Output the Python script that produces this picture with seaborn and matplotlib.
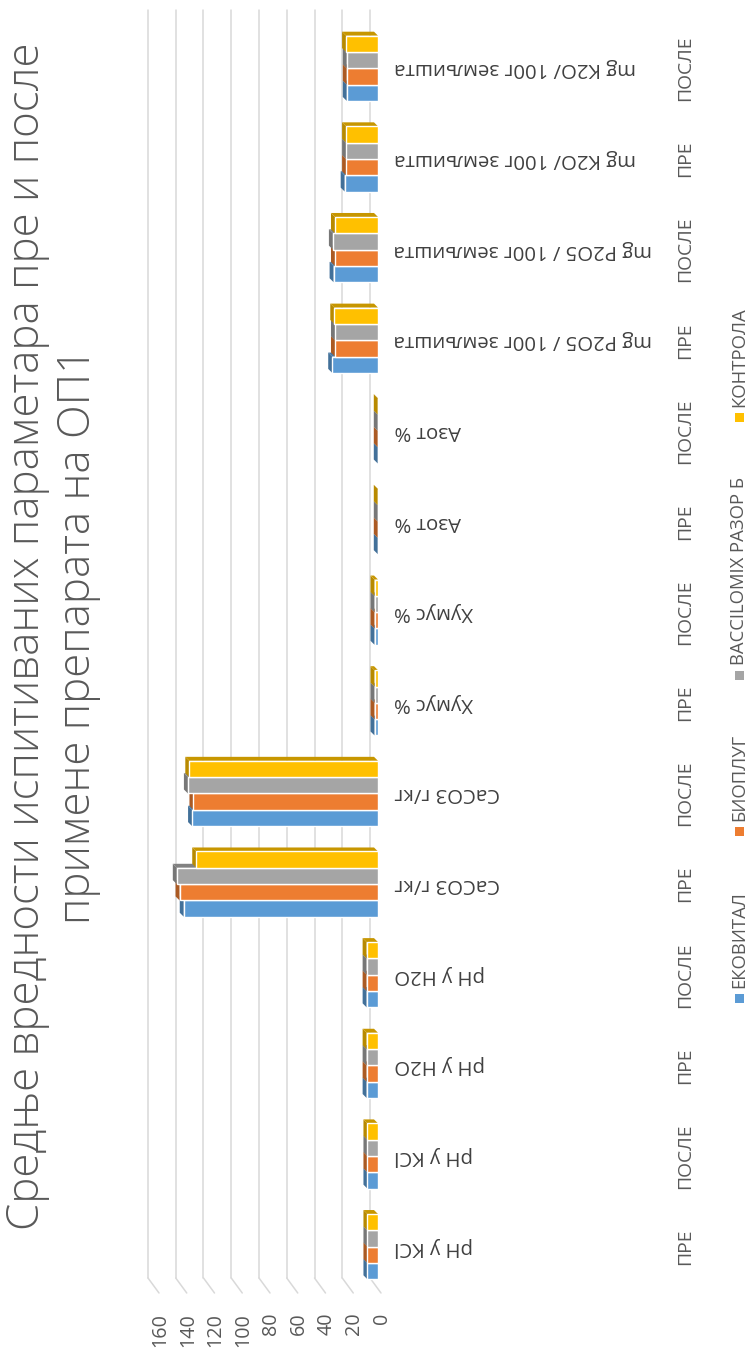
import numpy as np
import pandas as pd
import matplotlib
matplotlib.use("Agg")
import matplotlib.pyplot as plt
import matplotlib.colors as mcolors
import seaborn as sns
from matplotlib.patches import Polygon, Rectangle
from matplotlib.transforms import blended_transform_factory, ScaledTranslation

# ---------------- data ----------------
parameters = ["pH у KCl", "pH у KCl", "pH у H2O", "pH у H2O",
              "CaCO3 г/кг", "CaCO3 г/кг", "Хумус %", "Хумус %",
              "Азот %", "Азот %",
              "mg P2O5 / 100г земљишта", "mg P2O5 / 100г земљишта",
              "mg K2O/ 100г земљишта", "mg K2O/ 100г земљишта"]
phases = ["ПРЕ", "ПОСЛЕ"] * 7
series_names = ["ЕКОВИТАЛ", "БИОПЛУГ", "BACCILOMIX РАЗОР Б", "КОНТРОЛА"]

ekovital   = [7.6, 7.6, 8.2, 8.2, 140, 134, 2.5, 2.5, 0.15, 0.15, 33.0, 32.0, 24.0, 22.5]
bioplug    = [7.6, 7.6, 8.2, 8.2, 143, 133, 2.5, 2.5, 0.15, 0.15, 31.0, 31.0, 23.0, 22.5]
baccilomix = [7.6, 7.6, 8.2, 8.2, 145, 137, 2.5, 2.5, 0.15, 0.15, 31.0, 32.5, 23.0, 22.5]
kontrola   = [7.6, 7.6, 8.2, 8.2, 131, 136, 2.5, 2.5, 0.15, 0.15, 31.5, 31.0, 23.0, 23.0]

value_ticks = [0, 20, 40, 60, 80, 100, 120, 140, 160]
colors = ["#5B9BD5", "#ED7D31", "#A5A5A5", "#FFC000"]

title_line1 = "Средње вредности испитиваних параметара пре и после"
title_line2 = "примене препарата на ОП1"

# ---------------- table ----------------
cat_keys = [f"c{i}" for i in range(len(parameters))]
rows = []
for name, vals in zip(series_names, [ekovital, bioplug, baccilomix, kontrola]):
    for k, v in zip(cat_keys, vals):
        rows.append({"cat": k, "value": v, "series": name})
df = pd.DataFrame(rows)

# ---------------- style ----------------
sns.set_theme(style="white")
plt.rcParams["font.family"] = ["Open Sans", "DejaVu Sans"]
TXT = "#595959"
GRID = "#D9D9D9"

W, H = 751, 1352
fig = plt.figure(figsize=(W / 100, H / 100), dpi=100)
renderer = fig.canvas.get_renderer()


def fit_size(text, target_px, base=20.0, weight="normal"):
    t = fig.text(0, 0, text, fontsize=base, fontweight=weight)
    w = t.get_window_extent(renderer).width
    t.remove()
    return base * target_px / w


ax_left, ax_right = 156, 378
ax_top, ax_bottom = 23, 1292
ax = fig.add_axes([ax_left / W, 1 - ax_bottom / H,
                   (ax_right - ax_left) / W, (ax_bottom - ax_top) / H])

sns.barplot(data=df, x="value", y="cat", hue="series", order=cat_keys,
            hue_order=series_names, palette=colors, orient="h", width=0.72,
            saturation=1, errorbar=None, legend=False, ax=ax)

ax.set_xlim(160, 0)
ax.set_ylim(-0.5, len(cat_keys) - 0.5)

ux = (ax_right - ax_left) / 160.0           # px per value unit
uy = (ax_bottom - ax_top) / len(cat_keys)   # px per category unit

# pseudo-3D faces
dxv, dyv = 4 / ux, 4 / uy
for p in list(ax.patches):
    x0, w, y0, h = p.get_x(), p.get_width(), p.get_y(), p.get_height()
    fc = np.array(mcolors.to_rgb(p.get_facecolor()))
    z = p.get_zorder() - 0.1
    cap = Polygon([(x0 + w, y0), (x0 + w, y0 + h), (x0 + w + dxv, y0 + h + dyv),
                   (x0 + w + dxv, y0 + dyv)], closed=True,
                  facecolor=tuple(fc * 0.72), edgecolor="none", zorder=z)
    side = Polygon([(x0, y0 + h), (x0 + w, y0 + h), (x0 + w + dxv, y0 + h + dyv),
                    (x0 + dxv, y0 + h + dyv)], closed=True,
                   facecolor=tuple(fc * 0.78), edgecolor="none", zorder=z)
    ax.add_patch(cap)
    ax.add_patch(side)

# gridlines (back wall + floor diagonal)
ylo = -0.5 + 14 / uy
yhi = len(cat_keys) - 0.5 + 13 / uy
for v in value_ticks:
    xb = v + 8 / ux
    ax.plot([xb, xb], [ylo, yhi], color=GRID, lw=1.1, clip_on=False, zorder=0.3)
    ax.plot([xb, v - 3 / ux], [ylo, -0.5 - 1 / uy], color=GRID, lw=1.1,
            clip_on=False, zorder=0.3)

ax.grid(False)
for s in ax.spines.values():
    s.set_visible(False)
tick_fs = fit_size("160", 34)
ax.set_xticks(value_ticks)
ax.set_xticklabels([str(v) for v in value_ticks], rotation=90)
ax.tick_params(axis="x", length=0, pad=15, labelsize=tick_fs, labelcolor=TXT)
shift = ScaledTranslation(4 / 100, 0, fig.dpi_scale_trans)
for lab in ax.get_xticklabels():
    lab.set_transform(lab.get_transform() + shift)
ax.set_yticks([])
ax.set_xlabel("")
ax.set_ylabel("")

# category labels
phase_fs = fit_size("ПОСЛЕ", 66)
param_fs = 0.5 * (fit_size("pH у KCl", 79) + fit_size("mg P2O5 / 100г земљишта", 257))
trans = blended_transform_factory(fig.transFigure, ax.transData)
for i, (param, ph) in enumerate(zip(parameters, phases)):
    ax.text(685 / W, i, ph, transform=trans, rotation=90, ha="center",
            va="center", fontsize=phase_fs, color=TXT, clip_on=False)
    ax.text(394 / W, i, param, transform=trans, rotation=180, ha="left",
            va="center", fontsize=param_fs, color="#404040", clip_on=False)

# title
title_fs = fit_size(title_line1, 1192, weight="light")
fig.text(28 / W, 1 - 636 / H, title_line1, rotation=90, ha="center",
         va="center", fontsize=title_fs, fontweight="light", color=TXT)
fig.text(79 / W, 1 - 636 / H, title_line2, rotation=90, ha="center",
         va="center", fontsize=title_fs, fontweight="light", color=TXT)

# legend (rotated, drawn manually)
leg_fs = fit_size("ЕКОВИТАЛ", 97)
leg_x = 739
mk = 9
gap_in = 6
items = []
for name, col in zip(series_names, colors):
    t = fig.text(leg_x / W, 0, name, rotation=90, ha="center", va="bottom",
                 fontsize=leg_fs, color=TXT)
    items.append((t, t.get_window_extent(renderer).height, col))
text_total = sum(mk + gap_in + h for _, h, _ in items)
gap_out = max(18.0, (696 - text_total) / (len(items) - 1))
total = text_total + gap_out * (len(items) - 1)
cur = (H - 655) - total / 2
for t, h, col in items:
    fig.patches.append(Rectangle(((leg_x - mk / 2) / W, cur / H), mk / W, mk / H,
                                 transform=fig.transFigure, facecolor=col,
                                 edgecolor="none"))
    cur += mk + gap_in
    t.set_position((leg_x / W, cur / H))
    cur += h + gap_out

fig.savefig("out.png", dpi=100, facecolor="white")
